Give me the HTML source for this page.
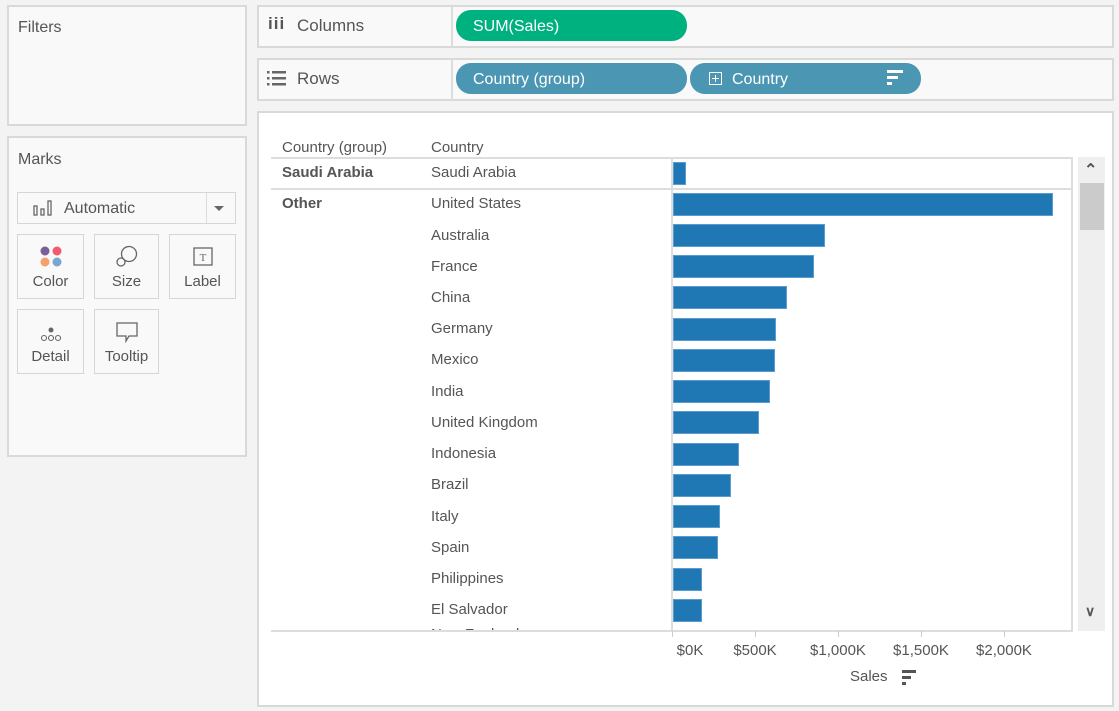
<!DOCTYPE html>
<html><head><meta charset="utf-8"><style>
*{margin:0;padding:0;box-sizing:border-box}
body{width:1119px;height:711px;background:#f3f3f3;font-family:"Liberation Sans",Arial,sans-serif;color:#555;position:relative;overflow:hidden;font-size:15px}
.a{position:absolute}
.panel{position:absolute;background:#f9f9f9;border:2px solid #d9d9d9}
.btn{position:absolute;background:#f9f9f9;border:1px solid #d6d6d6;text-align:center;font-size:15px}
.pill{position:absolute;border-radius:15px;color:#fff;font-size:16px;line-height:31px;padding-top:1px;padding-left:17px}
.t{position:absolute;font-size:15px;white-space:nowrap}
.r{margin-top:1px}
.bar{position:absolute;left:673px;height:23px;background:#1f77b4;border:1px solid #5a9bd0}
.tick{position:absolute;top:631px;width:1px;height:6px;background:#ccc}
.lab{position:absolute;top:642px;font-size:15px;white-space:nowrap;transform:translateX(-50%)}
</style></head><body>
<div class="panel" style="left:7px;top:5px;width:240px;height:121px"></div>
<div class="t" style="left:18px;top:19px;font-size:16px">Filters</div>
<div class="panel" style="left:7px;top:136px;width:240px;height:321px"></div>
<div class="t" style="left:18px;top:151px;font-size:16px">Marks</div>
<div class="btn" style="left:17px;top:192px;width:219px;height:32px;text-align:left"></div>
<div class="a" style="left:206px;top:193px;width:1px;height:30px;background:#ddd"></div>
<div class="a" style="left:214px;top:206px;border-left:5px solid transparent;border-right:5px solid transparent;border-top:5px solid #666"></div>
<svg class="a" style="left:33px;top:200px" width="22" height="16"><g fill="none" stroke="#666" stroke-width="1.3"><rect x="1" y="6" width="3" height="9"/><rect x="8" y="9" width="3" height="6"/><rect x="15" y="1" width="3" height="14"/></g></svg>
<div class="t" style="left:64px;top:200px;font-size:16px">Automatic</div>
<div class="btn" style="left:17px;top:234px;width:67px;height:65px"><svg width="30" height="30" style="margin-top:7px"><circle cx="9" cy="9" r="4.5" fill="#7a5f9a"/><circle cx="21" cy="9" r="4.5" fill="#f25a6e"/><circle cx="9" cy="20" r="4.5" fill="#f3a26e"/><circle cx="21" cy="20" r="4.5" fill="#78a7d4"/></svg><div style="margin-top:-3px">Color</div></div>
<div class="btn" style="left:94px;top:234px;width:65px;height:65px"><svg width="30" height="30" style="margin-top:7px"><g fill="none" stroke="#666" stroke-width="1.3"><circle cx="17" cy="12" r="7.5"/><circle cx="9" cy="20" r="4"/></g></svg><div style="margin-top:-3px">Size</div></div>
<div class="btn" style="left:169px;top:234px;width:67px;height:65px"><svg width="30" height="30" style="margin-top:7px"><rect x="6" y="6" width="18" height="17" fill="none" stroke="#666" stroke-width="1.3"/><text x="15" y="19" font-size="11" text-anchor="middle" fill="#666" font-family="Liberation Serif">T</text></svg><div style="margin-top:-3px">Label</div></div>
<div class="btn" style="left:17px;top:309px;width:67px;height:65px"><svg width="30" height="30" style="margin-top:7px"><g fill="none" stroke="#666" stroke-width="1.1"><circle cx="8" cy="21" r="2.5"/><circle cx="15" cy="21" r="2.5"/><circle cx="22" cy="21" r="2.5"/></g><circle cx="15" cy="13" r="2.5" fill="#666"/></svg><div style="margin-top:-3px">Detail</div></div>
<div class="btn" style="left:94px;top:309px;width:65px;height:65px"><svg width="30" height="30" style="margin-top:7px"><path d="M5 6h20v13h-8l-3 5v-5h-9z" fill="none" stroke="#666" stroke-width="1.3"/></svg><div style="margin-top:-3px">Tooltip</div></div>

<div class="panel" style="left:257px;top:5px;width:857px;height:43px"></div>
<div class="a" style="left:451px;top:6px;width:2px;height:41px;background:#ddd"></div>
<div class="t" style="left:268px;top:14px;font-size:17px;font-weight:bold;letter-spacing:1px">iii</div>
<div class="t" style="left:297px;top:16px;font-size:17px">Columns</div>
<div class="pill" style="left:456px;top:10px;width:231px;height:31px;background:#00b180">SUM(Sales)</div>
<div class="panel" style="left:257px;top:58px;width:857px;height:43px"></div>
<div class="a" style="left:451px;top:59px;width:2px;height:41px;background:#ddd"></div>
<svg class="a" style="left:267px;top:70px" width="20" height="16"><g fill="#666"><rect x="0" y="1" width="2.5" height="2.5"/><rect x="5" y="1" width="14" height="2.5"/><rect x="0" y="7" width="2.5" height="2.5"/><rect x="5" y="7" width="14" height="2.5"/><rect x="0" y="13" width="2.5" height="2.5"/><rect x="5" y="13" width="14" height="2.5"/></g></svg>
<div class="t" style="left:297px;top:69px;font-size:17px">Rows</div>
<div class="pill" style="left:456px;top:63px;width:231px;height:31px;background:#4a96b3">Country (group)</div>
<div class="pill" style="left:690px;top:63px;width:231px;height:31px;background:#4a96b3;padding-left:42px">Country</div>
<div class="a" style="left:709px;top:72px;width:13px;height:13px;border:1.3px solid #fff"></div>
<div class="a" style="left:712px;top:78px;width:7px;height:1.3px;background:#fff"></div>
<div class="a" style="left:715px;top:75px;width:1.3px;height:7px;background:#fff"></div>
<div class="a" style="left:887px;top:70px;width:16px;height:2.5px;background:#fff"></div>
<div class="a" style="left:887px;top:76px;width:11px;height:2.5px;background:#fff"></div>
<div class="a" style="left:887px;top:82px;width:5px;height:2.5px;background:#fff"></div>

<div class="a" style="left:257px;top:111px;width:857px;height:596px;background:#fff;border:2px solid #d9d9d9"></div>
<div class="t" style="left:282px;top:139px">Country (group)</div>
<div class="t" style="left:431px;top:139px">Country</div>
<div class="a" style="left:271px;top:157px;width:802px;height:2px;background:#ddd"></div>
<div class="a" style="left:271px;top:188px;width:802px;height:2px;background:#ddd"></div>
<div class="a" style="left:271px;top:630px;width:802px;height:2px;background:#ddd"></div>
<div class="a" style="left:671px;top:157px;width:2px;height:475px;background:#ddd"></div>
<div class="a" style="left:1071px;top:157px;width:2px;height:475px;background:#ddd"></div>
<div class="a" style="left:1078px;top:157px;width:27px;height:474px;background:#efefef"></div>
<div class="a" style="left:1080px;top:183px;width:24px;height:47px;background:#cbcbcb"></div>
<div class="t" style="left:1084px;top:160px;font-size:16px;font-weight:bold;color:#555">&#8963;</div>
<div class="t" style="left:1085px;top:603px;font-size:14px;font-weight:bold;color:#555">&#8744;</div>

<div class="t" style="left:282px;top:164px;font-weight:bold">Saudi Arabia</div>
<div class="t" style="left:431px;top:164px">Saudi Arabia</div>
<div class="a" style="left:673px;top:162px;width:13px;height:23px;background:#1f77b4;border:1px solid #5a9bd0"></div>
<div class="t" style="left:282px;top:195px;font-weight:bold">Other</div>

<div class="t" style="left:431px;top:195px">United States</div><div class="bar" style="top:193px;width:380px"></div>
<div class="t" style="left:431px;top:227px">Australia</div><div class="bar" style="top:224px;width:152px"></div>
<div class="t" style="left:431px;top:258px">France</div><div class="bar" style="top:255px;width:141px"></div>
<div class="t" style="left:431px;top:289px">China</div><div class="bar" style="top:286px;width:114px"></div>
<div class="t" style="left:431px;top:320px">Germany</div><div class="bar" style="top:318px;width:103px"></div>
<div class="t" style="left:431px;top:351px">Mexico</div><div class="bar" style="top:349px;width:102px"></div>
<div class="t" style="left:431px;top:383px">India</div><div class="bar" style="top:380px;width:97px"></div>
<div class="t" style="left:431px;top:414px">United Kingdom</div><div class="bar" style="top:411px;width:86px"></div>
<div class="t" style="left:431px;top:445px">Indonesia</div><div class="bar" style="top:443px;width:66px"></div>
<div class="t" style="left:431px;top:476px">Brazil</div><div class="bar" style="top:474px;width:58px"></div>
<div class="t" style="left:431px;top:508px">Italy</div><div class="bar" style="top:505px;width:47px"></div>
<div class="t" style="left:431px;top:539px">Spain</div><div class="bar" style="top:536px;width:45px"></div>
<div class="t" style="left:431px;top:570px">Philippines</div><div class="bar" style="top:568px;width:29px"></div>
<div class="t" style="left:431px;top:601px">El Salvador</div><div class="bar" style="top:599px;width:29px"></div>
<div class="a" style="left:431px;top:626px;width:110px;height:4px;overflow:hidden"><div class="t" style="left:0;top:0">New Zealand</div></div>

<div class="tick" style="left:672px"></div><div class="tick" style="left:755px"></div><div class="tick" style="left:838px"></div><div class="tick" style="left:921px"></div><div class="tick" style="left:1004px"></div>
<div class="lab" style="left:690px">$0K</div>
<div class="lab" style="left:755px">$500K</div>
<div class="lab" style="left:838px">$1,000K</div>
<div class="lab" style="left:921px">$1,500K</div>
<div class="lab" style="left:1004px">$2,000K</div>
<div class="t" style="left:850px;top:668px">Sales</div>
<div class="a" style="left:902px;top:670px;width:14px;height:2.5px;background:#555"></div>
<div class="a" style="left:902px;top:676px;width:9px;height:2.5px;background:#555"></div>
<div class="a" style="left:902px;top:682px;width:4px;height:2.5px;background:#555"></div>
</body></html>
